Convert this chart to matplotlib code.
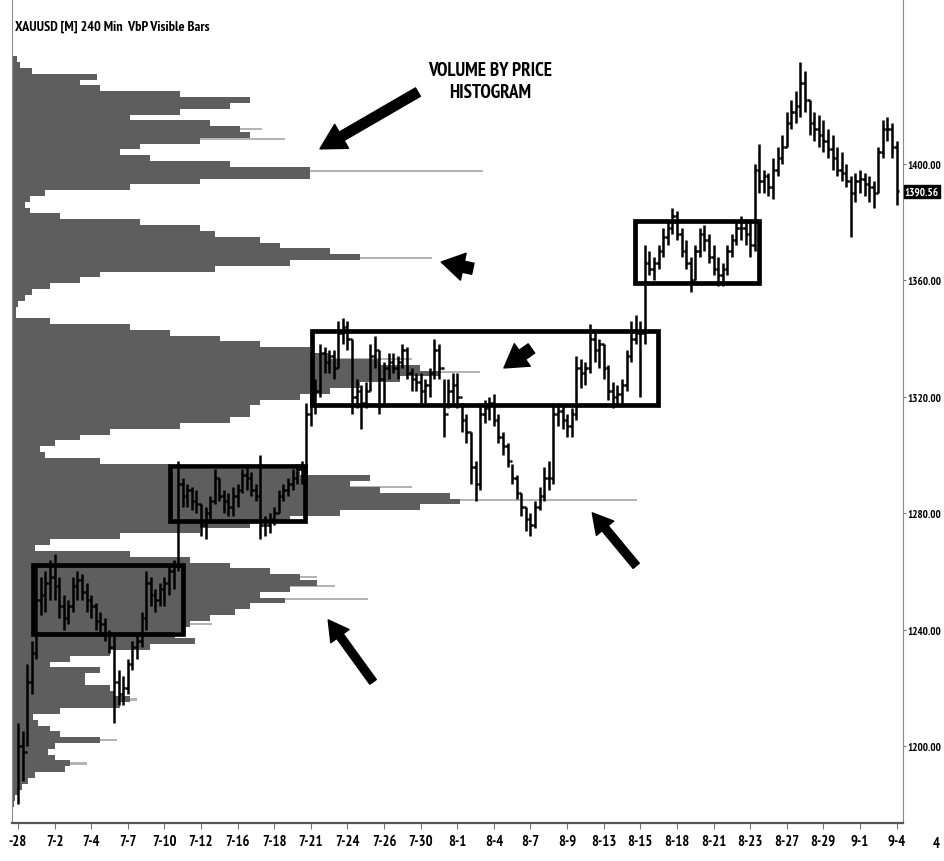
import numpy as np
import matplotlib.pyplot as plt
from matplotlib import font_manager
from matplotlib.font_manager import FontProperties
from matplotlib.textpath import TextPath
from matplotlib.patches import Rectangle

# 240 min bars, 8 bars between date labels
highs = [1208, 1205, 1228, 1236, 1262, 1258, 1260, 1264,
         1266, 1258, 1252, 1250, 1258, 1260, 1259, 1256,
         1252, 1249, 1246, 1244, 1240, 1238, 1226, 1224,
         1230, 1236, 1238, 1246, 1260, 1258, 1254, 1256,
         1258, 1262, 1264, 1298, 1292, 1290, 1289, 1288,
         1283, 1282, 1286, 1295, 1292, 1288, 1287, 1289,
         1290, 1295, 1296, 1294, 1290, 1300, 1279, 1280,
         1282, 1288, 1290, 1292, 1295, 1297, 1298, 1318,
         1322, 1326, 1338, 1337, 1336, 1336, 1346, 1347,
         1346, 1340, 1326, 1324, 1325, 1338, 1341, 1336,
         1332, 1335, 1335, 1334, 1338, 1337, 1330, 1328,
         1328, 1326, 1330, 1340, 1338, 1326, 1326, 1328,
         1328, 1318, 1314, 1308, 1298, 1318, 1319, 1320,
         1321, 1314, 1308, 1304, 1297, 1293, 1287, 1282,
         1280, 1284, 1289, 1296, 1298, 1318, 1318, 1317,
         1314, 1316, 1334, 1333, 1332, 1345, 1342, 1340,
         1338, 1331, 1325, 1324, 1326, 1336, 1346, 1348,
         1346, 1372, 1370, 1368, 1372, 1378, 1380, 1385,
         1384, 1378, 1374, 1368, 1372, 1378, 1379, 1376,
         1372, 1368, 1366, 1372, 1376, 1380, 1382, 1381,
         1380, 1400, 1407, 1398, 1397, 1402, 1406, 1410,
         1418, 1422, 1425, 1435, 1432, 1422, 1418, 1417,
         1415, 1412, 1410, 1406, 1404, 1400, 1396, 1397,
         1398, 1397, 1396, 1394, 1406, 1415, 1416, 1414,
         1408]
lows = [1180, 1188, 1200, 1218, 1230, 1245, 1246, 1250,
        1250, 1244, 1240, 1242, 1246, 1250, 1250, 1246,
        1244, 1240, 1238, 1236, 1232, 1208, 1214, 1214,
        1218, 1226, 1230, 1234, 1240, 1248, 1246, 1248,
        1248, 1252, 1254, 1260, 1282, 1282, 1281, 1280,
        1272, 1271, 1278, 1283, 1284, 1280, 1279, 1279,
        1282, 1287, 1288, 1286, 1284, 1271, 1272, 1273,
        1276, 1280, 1284, 1286, 1288, 1290, 1290, 1290,
        1310, 1314, 1320, 1328, 1328, 1326, 1330, 1338,
        1336, 1314, 1316, 1309, 1316, 1322, 1330, 1314,
        1318, 1326, 1328, 1326, 1330, 1326, 1322, 1322,
        1318, 1318, 1320, 1326, 1326, 1306, 1316, 1318,
        1316, 1308, 1304, 1290, 1284, 1288, 1311, 1312,
        1310, 1304, 1300, 1296, 1290, 1285, 1279, 1274,
        1272, 1275, 1281, 1284, 1288, 1290, 1310, 1309,
        1306, 1306, 1312, 1323, 1324, 1328, 1332, 1330,
        1326, 1319, 1316, 1317, 1318, 1322, 1332, 1338,
        1320, 1338, 1362, 1360, 1364, 1368, 1372, 1376,
        1374, 1368, 1364, 1356, 1360, 1368, 1370, 1366,
        1362, 1358, 1358, 1362, 1368, 1372, 1374, 1372,
        1368, 1370, 1390, 1390, 1389, 1388, 1396, 1400,
        1406, 1412, 1414, 1416, 1418, 1410, 1408, 1406,
        1404, 1402, 1398, 1396, 1394, 1392, 1375, 1387,
        1390, 1389, 1387, 1385, 1390, 1402, 1408, 1402,
        1386]
closes = [1200, 1198, 1222, 1232, 1250, 1252, 1256, 1258,
          1255, 1248, 1244, 1248, 1255, 1257, 1253, 1250,
          1248, 1243, 1242, 1238, 1234, 1222, 1218, 1220,
          1228, 1234, 1236, 1244, 1256, 1252, 1250, 1254,
          1256, 1260, 1262, 1290, 1286, 1288, 1284, 1283,
          1276, 1280, 1284, 1292, 1286, 1284, 1282, 1286,
          1288, 1293, 1292, 1288, 1286, 1276, 1276, 1278,
          1280, 1286, 1288, 1290, 1292, 1295, 1294, 1314,
          1318, 1322, 1335, 1332, 1334, 1330, 1342, 1344,
          1340, 1320, 1322, 1318, 1322, 1334, 1336, 1326,
          1330, 1332, 1330, 1332, 1336, 1328, 1326, 1325,
          1322, 1324, 1328, 1336, 1330, 1314, 1322, 1324,
          1320, 1312, 1308, 1296, 1290, 1314, 1316, 1318,
          1312, 1306, 1303, 1298, 1292, 1287, 1282, 1278,
          1276, 1282, 1286, 1292, 1292, 1314, 1315, 1312,
          1310, 1314, 1330, 1328, 1330, 1340, 1336, 1338,
          1330, 1322, 1320, 1321, 1324, 1334, 1340, 1342,
          1342, 1366, 1364, 1366, 1370, 1375, 1378, 1382,
          1376, 1370, 1366, 1360, 1370, 1376, 1374, 1368,
          1364, 1362, 1364, 1370, 1374, 1378, 1378, 1376,
          1372, 1398, 1394, 1396, 1392, 1398, 1402, 1406,
          1414, 1418, 1420, 1428, 1422, 1414, 1412, 1410,
          1408, 1405, 1402, 1398, 1397, 1394, 1390, 1394,
          1395, 1393, 1392, 1390, 1404, 1412, 1412, 1406,
          1390.56]

date_labels = ['-28', '7-2', '7-4', '7-7', '7-10', '7-12', '7-16', '7-18', '7-21',
               '7-24', '7-26', '7-30', '8-1', '8-4', '8-7', '8-9', '8-13', '8-15',
               '8-18', '8-21', '8-23', '8-27', '8-29', '9-1', '9-4']

# volume by price, 2$ bins from 1180 to 1436
vp_levels = np.arange(1180, 1438, 2)
vp_volume = [2, 3, 6, 10, 16, 23, 53, 58, 43, 36,
             43, 88, 48, 38, 26, 21, 48, 108, 118, 103,
             98, 73, 73, 88, 38, 58, 98, 138, 183, 163,
             173, 178, 198, 223, 238, 273, 248, 278, 305, 288,
             258, 218, 178, 118, 23, 38, 108, 188, 238, 278,
             328, 408, 448, 438, 368, 338, 358, 288, 158, 88,
             33, 28, 43, 68, 98, 168, 218, 238, 238, 248,
             288, 318, 348, 388, 428, 408, 368, 318, 298, 248,
             208, 158, 118, 38, 4, 4, 6, 13, 20, 38,
             68, 88, 203, 278, 348, 318, 268, 248, 203, 188,
             128, 48, 18, 13, 18, 33, 118, 188, 298, 298,
             218, 138, 108, 128, 188, 238, 228, 198, 118, 168,
             218, 238, 168, 88, 68, 85, 20, 8, 5]
# thin light tips of the profile
tip_levels = [1397.5, 1367.6, 1408.5, 1412, 1328.5, 1333, 1284.6, 1289,
              1250.6, 1255, 1258, 1242, 1216, 1202, 1194]
tip_volume = [471, 420, 273, 250, 468, 400, 625, 400, 356, 323, 305, 200, 125, 105, 75]

# consolidation boxes
box_start = [3.3, 33.2, 64.3, 134.9]
box_end = [36.1, 62.7, 139.9, 162.0]
box_low = [1238.5, 1277.3, 1317.2, 1359.1]
box_high = [1262.2, 1296.2, 1342.6, 1380.4]


# narrow bold font like the trading platform, whatever is installed
def pick_font():
    best, best_rank = None, 99
    prefs = ['liberation sans narrow', 'roboto condensed', 'open sans condensed',
             'dejavu sans condensed', 'noto sans condensed']
    for f in font_manager.fontManager.ttflist:
        label = (f.name + ' ' + f.fname.split('/')[-1]).lower()
        narrow = ('narrow' in label or 'condensed' in label
                  or str(f.stretch) in ('condensed', 'semi-condensed', 'extra-condensed', 'ultra-condensed'))
        w = f.weight if isinstance(f.weight, int) else {'bold': 700, 'heavy': 800, 'black': 900}.get(str(f.weight), 400)
        if not narrow or w < 700 or 'italic' in label or 'oblique' in label:
            continue
        rank = 10
        for k, p in enumerate(prefs):
            if p in label.replace('-', ' ').replace('condensedbold', 'condensed bold'):
                rank = k
        if 'narrow' in label:
            rank = min(rank, 0)
        if w > 700:
            rank += 5
        if rank < best_rank:
            best, best_rank = f, rank
    if best is None:
        return FontProperties(family='DejaVu Sans', weight='bold')
    return FontProperties(fname=best.fname)


base_fp = pick_font()


def fitted(text, width_px):
    # font size that makes the text about as wide as in the screenshot
    w = TextPath((0, 0), text, size=10, prop=base_fp).get_extents().width
    fp = base_fp.copy()
    fp.set_size(10 * (width_px * 0.72) / w)
    return fp


fp_y = fitted('1320.00', 33)
fp_x = fitted('8-29', 24)
fp_title = fitted('XAUUSD [M] 240 Min  VbP Visible Bars', 195)
fp_note = fitted('VOLUME BY PRICE', 124)

fig = plt.figure(figsize=(9.45, 8.62), dpi=100)
rect = [12 / 945, 38 / 862, 891 / 945, 824 / 862]
ylim = (1173.5, 1456.7)

# histogram layer
hax = fig.add_axes(rect)
hax.barh(tip_levels, tip_volume, height=0.8, color='#b4b4b4', zorder=1)
hax.barh(vp_levels, vp_volume, height=2.0, color='#5e5e5e', zorder=2)
hax.set_xlim(0, 891)
hax.set_ylim(ylim)
hax.axis('off')

# price layer
ax = fig.add_axes(rect)
ax.set_facecolor('none')
idx = np.arange(len(closes))
ax.vlines(idx, lows, highs, colors='black', lw=1.8)
ax.hlines(closes, idx, idx + 0.5, colors='black', lw=1.8)
ax.hlines(closes[:-1], idx[1:] - 0.5, idx[1:], colors='black', lw=1.8)

for x0, x1, lo, hi in zip(box_start, box_end, box_low, box_high):
    ax.add_patch(Rectangle((x0, lo), x1 - x0, hi - lo, fill=False, ec='black', lw=3.4, zorder=5))

ax.set_xlim(-1.3, 193.4)
ax.set_ylim(ylim)


def arrow(tail, head, scale, tw, hw, hl):
    ax.annotate('', xy=head, xytext=tail,
                arrowprops=dict(arrowstyle=f'simple,tail_width={tw},head_width={hw},head_length={hl}',
                                color='black', mutation_scale=scale, shrinkA=0, shrinkB=0))


arrow((87.4, 1424.7), (66.0, 1405.2), 20, 0.35, 1.0, 0.9)
arrow((99.4, 1364.0), (92.5, 1366.3), 18, 0.45, 1.1, 0.9)
arrow((112.2, 1336.6), (106.2, 1329.9), 18, 0.45, 1.1, 0.9)
arrow((135.1, 1261.9), (125.5, 1280.1), 18, 0.32, 0.9, 0.8)
arrow((77.6, 1222.0), (67.8, 1243.3), 18, 0.32, 0.9, 0.8)

ax.text(103.2, 1428.5, 'VOLUME BY PRICE\nHISTOGRAM', ha='center', va='center',
        fontproperties=fp_note, linespacing=1.3)
ax.text(0.003, 0.967, 'XAUUSD [M] 240 Min  VbP Visible Bars', transform=ax.transAxes,
        fontproperties=fp_title, va='center', ha='left')

# axes styling
ax.spines['top'].set_visible(False)
ax.spines['left'].set_color('#8a8a8a')
ax.spines['right'].set_color('#8a8a8a')
ax.spines['bottom'].set_color('#555555')
ax.spines['bottom'].set_linewidth(1.6)

ax.set_xticks(np.arange(0, len(closes), 8))
ax.set_xticklabels(date_labels, fontproperties=fp_x)
ax.tick_params(axis='x', length=4, color='#777777', pad=4)
ax.text(200.6, -0.016, '4', transform=ax.get_xaxis_transform(), ha='center', va='top',
        fontproperties=fp_x, clip_on=False)

ax.yaxis.tick_right()
yt = np.arange(1200, 1401, 40)
ax.set_yticks(yt)
ax.set_yticklabels([f'{v:.2f}' for v in yt], fontproperties=fp_y)
ax.tick_params(axis='y', length=2, color='#777777', pad=1)
ax.text(1.002, closes[-1], f'{closes[-1]:.2f}', transform=ax.get_yaxis_transform(),
        color='white', fontproperties=fp_y, va='center', ha='left',
        bbox=dict(facecolor='black', edgecolor='black', pad=0.8))

fig.savefig('out.png', dpi=100)
